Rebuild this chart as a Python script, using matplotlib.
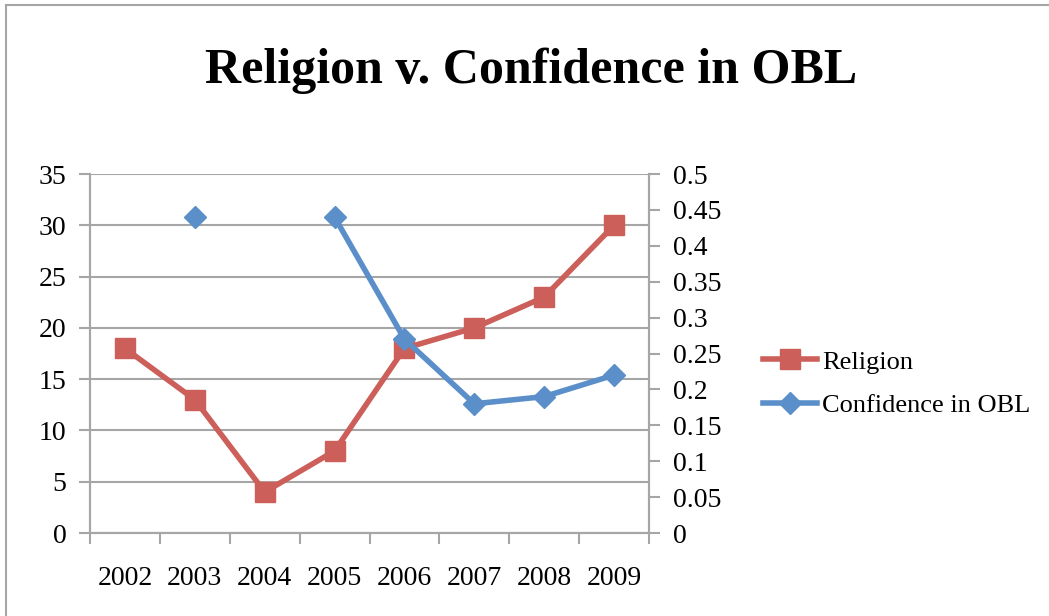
import numpy as np
import matplotlib
matplotlib.use("Agg")
import matplotlib.pyplot as plt
from matplotlib.patches import Rectangle

years = ["2002", "2003", "2004", "2005", "2006", "2007", "2008", "2009"]
religion = [18, 13, 4, 8, 18, 20, 23, 30]
confidence = [np.nan, 0.44, np.nan, 0.44, 0.27, 0.18, 0.19, 0.22]

red = "#CD5F5A"
blue = "#5B8FC9"
grey = "#A6A6A6"

plt.rcParams["font.family"] = ["Liberation Serif", "DejaVu Serif"]

fig = plt.figure(figsize=(10.49, 6.16), dpi=100)
# outer chart border (cut off on the right and bottom)
fig.patches.append(Rectangle((6 / 1049, -0.1), 1.2, 1 - 5 / 616 + 0.1, transform=fig.transFigure,
                             fill=False, edgecolor=grey, linewidth=1.5))

ax = fig.add_axes([0.0858, 0.1347, 0.5329, 0.5828])
ax2 = ax.twinx()

x = np.arange(len(years))
ax.plot(x, religion, color=red, linewidth=4, marker="s", markersize=14, label="Religion", zorder=3)
ax2.plot(x, confidence, color=blue, linewidth=4, marker="D", markersize=11.5, label="Confidence in OBL", zorder=4)

ax.set_xlim(-0.5, len(years) - 0.5)
ax.set_ylim(0, 35)
ax2.set_ylim(0, 0.5)
ax.set_yticks(range(0, 36, 5))
ax2.set_yticks(np.arange(0, 0.51, 0.05))
ax2.set_yticklabels(["0", "0.05", "0.1", "0.15", "0.2", "0.25", "0.3", "0.35", "0.4", "0.45", "0.5"])

ax.set_xticks(x)
ax.set_xticklabels(years)
ax.set_xticks(np.arange(-0.5, len(years), 1), minor=True)
ax.tick_params(axis="x", which="major", length=0, pad=24, labelsize=20)
ax.tick_params(axis="x", which="minor", length=8, color=grey, width=1.5, direction="out")
ax.tick_params(axis="y", length=8, color=grey, width=1.5, labelsize=20, pad=9)
ax2.tick_params(axis="y", length=8, color=grey, width=1.5, labelsize=20, pad=9)

ax.yaxis.grid(True, color=grey, linewidth=1.5)
ax.set_axisbelow(True)
for a in (ax, ax2):
    a.spines["top"].set_visible(False)
    for s in ("left", "right", "bottom"):
        a.spines[s].set_color(grey)
        a.spines[s].set_linewidth(1.5)

# blue series sits on top of the red one
ax.patch.set_visible(False)
ax2.patch.set_visible(False)

h1, l1 = ax.get_legend_handles_labels()
h2, l2 = ax2.get_legend_handles_labels()
fig.legend(h1 + h2, l1 + l2, loc="center left", bbox_to_anchor=(0.7274, 0.3774),
           frameon=False, fontsize=19, handlelength=2.05, handletextpad=0.2,
           labelspacing=0.75, borderpad=0, borderaxespad=0)

fig.text(0.506, 0.8653, "Religion v. Confidence in OBL", ha="center", va="baseline",
         fontsize=36, fontweight="bold")

fig.savefig("out.png", dpi=100)
